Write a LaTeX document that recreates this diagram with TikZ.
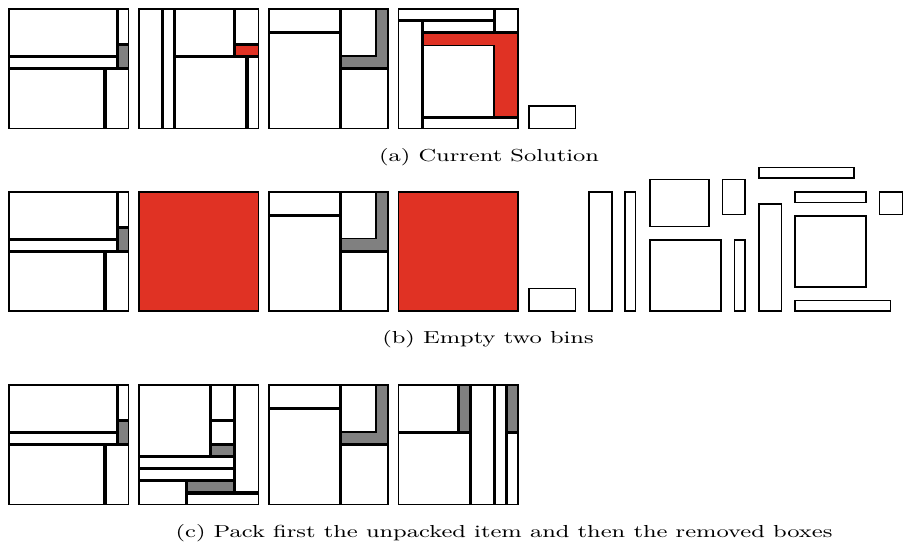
\documentclass[tikz,border=0pt]{standalone}
\usepackage{graphicx}
\definecolor{wred}{RGB}{224,50,36}
\definecolor{wgray}{RGB}{128,128,128}
\newcommand\bxU{12.1}
\newcommand\bxd{0.76}
\newcommand\bx[5][itembox]{\draw[#1] ({#2*\bxU+\bxd},{#3*\bxU+\bxd}) rectangle ({#4*\bxU-\bxd},{#5*\bxU-\bxd});}
\newcommand\binOne{%
\bx{0}{0}{9}{4}
\bx{9}{0}{10}{3}
\bx[graybox]{9}{3}{10}{5}
\bx{0}{4}{9}{5}
\bx{0}{5}{8}{10}
\bx{8}{5}{10}{10}}
\newcommand\binThree{%
\bx{0}{0}{6}{2}
\bx{0}{2}{6}{10}
\bx[graybox]{6}{0}{10}{5}
\bx{6}{0}{9}{4}
\bx{6}{5}{10}{10}}
\begin{document}
\begin{tikzpicture}[x=0.5pt,y=-0.5pt,
  itembox/.style={draw=black,fill=white,line width=0.76pt},
  graybox/.style={itembox,fill=wgray},
  redbox/.style={itembox,fill=wred},
  captxt/.style={font=\fontsize{8.7}{10}\selectfont,inner sep=0pt}]
\useasboundingbox (0,0) rectangle (903,543);
% ---------- row (a)
\begin{scope}[shift={(8.2,8.2)}]\binOne\end{scope}
\begin{scope}[shift={(138.1,8.2)}]
\bx{0}{0}{2}{10}
\bx{2}{0}{3}{10}
\bx{3}{0}{8}{4}
\bx{8}{0}{10}{3}
\bx[redbox]{8}{3}{10}{4}
\bx{3}{4}{9}{10}
\bx{9}{4}{10}{10}
\end{scope}
\begin{scope}[shift={(268,8.2)}]\binThree\end{scope}
\begin{scope}[shift={(397.9,8.2)}]
\bx{0}{0}{8}{1}
\bx{8}{0}{10}{2}
\bx{0}{1}{2}{10}
\bx{2}{1}{8}{2}
\bx[redbox]{2}{2}{10}{9}
\bx{2}{3}{8}{9}
\bx{2}{9}{10}{10}
\end{scope}
\begin{scope}[shift={(528,8.2)}]\bx{0}{8}{4}{10}\end{scope}
\node[captxt,anchor=base] (capa) at (489,161) {\scalebox{1.37}[1]{(a) Current Solution}};
% ---------- row (b)
\begin{scope}[shift={(8.2,191)}]\binOne\end{scope}
\begin{scope}[shift={(138.1,191)}]\bx[redbox]{0}{0}{10}{10}\end{scope}
\begin{scope}[shift={(268,191)}]\binThree\end{scope}
\begin{scope}[shift={(397.9,191)}]\bx[redbox]{0}{0}{10}{10}\end{scope}
\begin{scope}[shift={(528,191)}]\bx{0}{8}{4}{10}\end{scope}
\begin{scope}[shift={(588.3,191)}]\bx{0}{0}{2}{10}\end{scope}
\begin{scope}[shift={(624.3,191)}]\bx{0}{0}{1}{10}\end{scope}
\begin{scope}[shift={(649,191)}]\bx{0}{-1}{5}{3}\bx{0}{4}{6}{10}\end{scope}
\begin{scope}[shift={(721.7,191)}]\bx{0}{-1}{2}{2}\end{scope}
\begin{scope}[shift={(733.7,191)}]\bx{0}{4}{1}{10}\end{scope}
\begin{scope}[shift={(758,191)}]\bx{0}{1}{2}{10}\bx{0}{-2}{8}{-1}\end{scope}
\begin{scope}[shift={(794.3,191)}]\bx{0}{0}{6}{1}\bx{0}{2}{6}{8}\bx{0}{9}{8}{10}\end{scope}
\begin{scope}[shift={(878.9,191)}]\bx{0}{0}{2}{2}\end{scope}
\node[captxt,anchor=base] (capb) at (488,343) {\scalebox{1.37}[1]{(b) Empty two bins}};
% ---------- row (c)
\begin{scope}[shift={(8.2,384.1)}]\binOne\end{scope}
\begin{scope}[shift={(138.1,384.1)}]
\bx{0}{0}{6}{6}
\bx{6}{0}{8}{3}
\bx{6}{3}{8}{5}
\bx[graybox]{6}{5}{8}{6}
\bx{8}{0}{10}{9}
\bx{0}{6}{8}{7}
\bx{0}{7}{8}{8}
\bx{0}{8}{4}{10}
\bx[graybox]{4}{8}{8}{9}
\bx{4}{9}{10}{10}
\end{scope}
\begin{scope}[shift={(268,384.1)}]\binThree\end{scope}
\begin{scope}[shift={(397.9,384.1)}]
\bx{0}{0}{5}{4}
\bx[graybox]{5}{0}{6}{4}
\bx{0}{4}{6}{10}
\bx{6}{0}{8}{10}
\bx{8}{0}{9}{10}
\bx[graybox]{9}{0}{10}{4}
\bx{9}{4}{10}{10}
\end{scope}
\node[captxt,anchor=base] (capc) at (504,537) {\scalebox{1.37}[1]{(c) Pack first the unpacked item and then the removed boxes}};
\end{tikzpicture}
\end{document}
